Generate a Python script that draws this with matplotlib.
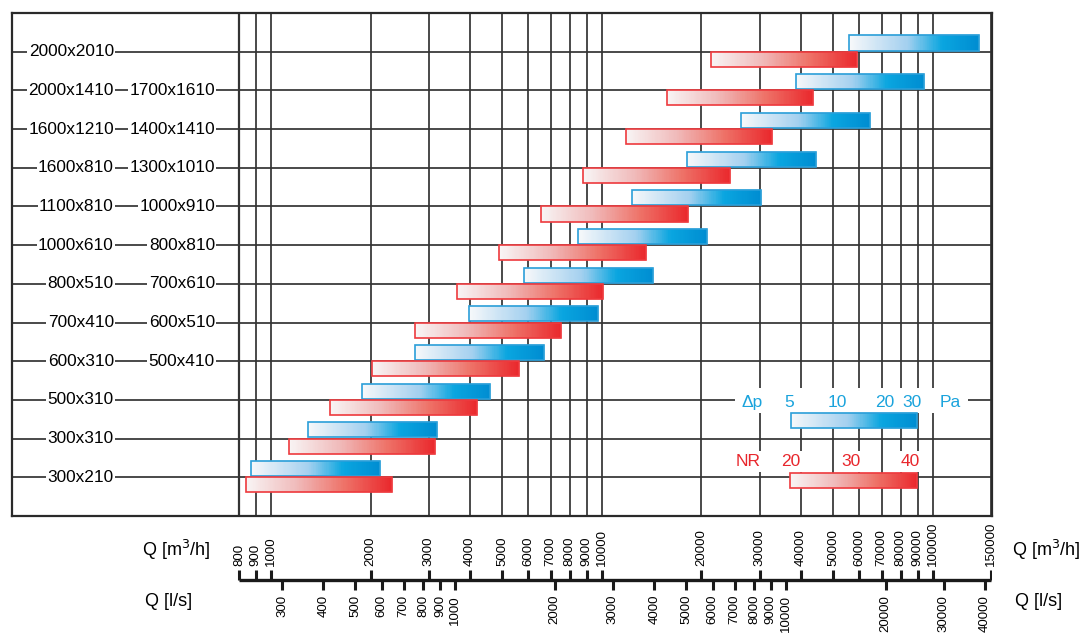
import numpy as np
import matplotlib
matplotlib.use('Agg')
import matplotlib.pyplot as plt
from matplotlib.colors import LinearSegmentedColormap

plt.rcParams['font.family'] = ['Liberation Sans', 'DejaVu Sans']

# Row labels (bottom -> top), two columns
labels_a = ['300x210', '300x310', '500x310', '600x310', '700x410', '800x510',
            '1000x610', '1100x810', '1600x810', '1600x1210', '2000x1410', '2000x2010']
labels_b = ['', '', '', '500x410', '600x510', '700x610',
            '800x810', '1000x910', '1300x1010', '1400x1410', '1700x1610', '']

# Flow ranges in m3/h
nr_start = [840, 1130, 1510, 2020, 2730, 3650, 4900, 6560, 8790, 11800, 15700, 21300]
nr_end = [2320, 3130, 4190, 5610, 7540, 10100, 13600, 18200, 24400, 32600, 43500, 59000]
dp_start = [870, 1290, 1880, 2730, 3970, 5820, 8490, 12300, 18100, 26400, 38500, 56000]
dp_end = [2140, 3170, 4600, 6670, 9740, 14300, 20800, 30200, 44300, 64500, 94000, 137500]

# Legend scales
dp_legend = (37200, 89900)
dp_legend_ticks = ['5', '10', '20', '30']
dp_legend_pos = [36800, 51400, 71800, 86600]
nr_legend = (37100, 89900)
nr_legend_ticks = ['20', '30', '40']
nr_legend_pos = [37100, 56600, 85400]

# Axis ticks
q_m3h = [800, 900, 1000, 2000, 3000, 4000, 5000, 6000, 7000, 8000, 9000, 10000,
         20000, 30000, 40000, 50000, 60000, 70000, 80000, 90000, 100000, 150000]
q_ls = [300, 400, 500, 600, 700, 800, 900, 1000, 2000, 3000, 4000, 5000, 6000,
        7000, 8000, 9000, 10000, 20000, 30000, 40000]

W, H = 1087, 633
fig = plt.figure(figsize=(W / 100, H / 100), dpi=100)

XMIN, XMAX = 165, 151000
ax = fig.add_axes([12 / W, 1 - 516 / H, 980 / W, 503 / H])
ax.set_xscale('log')
ax.set_xlim(XMIN, XMAX)
ax.set_ylim(-1, 12)
ax.set_xticks([])
ax.set_yticks([])
ax.minorticks_off()
for s in ax.spines.values():
    s.set_linewidth(1.6)
    s.set_color('#2a2a2a')

grid_c = '#333333'
for q in q_m3h:
    ax.axvline(q, color=grid_c, lw=1.6 if q == 800 else 1.25, zorder=1)
rows = np.arange(len(labels_a))
for r in rows:
    ax.axhline(r, color=grid_c, lw=1.25, zorder=1)

lab_kw = dict(fontsize=12.4, va='center', ha='right', zorder=3,
              bbox=dict(boxstyle='square,pad=0.08', fc='white', ec='none'))
for r in rows:
    ax.text(335, r, labels_a[r], **lab_kw)
    if labels_b[r]:
        ax.text(677, r, labels_b[r], **lab_kw)

blue_cm = LinearSegmentedColormap.from_list(
    'b', [(0, '#f6f8fa'), (0.45, '#a3d0ef'), (0.72, '#0aa6e0'), (1, '#008ed2')])
red_cm = LinearSegmentedColormap.from_list(
    'r', [(0, '#f8f4f4'), (0.35, '#f0baba'), (0.68, '#ee7268'), (1, '#ea2a2e')])


def grad_bar(x0, x1, y0, h, cmap, edge):
    n = 60
    edges = np.geomspace(x0, x1, n + 1)
    cols = cmap(np.linspace(0, 1, n))
    ax.barh([y0] * n, np.diff(edges), left=edges[:-1], height=h, align='edge',
            color=cols, edgecolor=cols, linewidth=0.3, zorder=4)
    ax.barh(y0, x1 - x0, left=x0, height=h, align='edge', fill=False,
            edgecolor=edge, linewidth=1.2, zorder=5)


BH = 0.39
for r in rows:
    grad_bar(dp_start[r], dp_end[r], r + 0.03, BH, blue_cm, '#2b9fd9')
    grad_bar(nr_start[r], nr_end[r], r - 0.39, BH, red_cm, '#ee3a3e')

# legend
blue_t = '#1aa3dc'
red_t = '#e8262c'
# white band behind the pressure scale text
ax.barh(1.66, 127900 - 25300, left=25300, height=0.66, align='edge',
        color='white', edgecolor='none', zorder=3)
grad_bar(dp_legend[0], dp_legend[1], 1.27, BH, blue_cm, '#2b9fd9')
grad_bar(nr_legend[0], nr_legend[1], -0.28, BH, red_cm, '#ee3a3e')
leg_box = dict(boxstyle='square,pad=0.15', fc='white', ec='none')
ax.text(26500, 1.93, '\u0394p', color=blue_t, fontsize=12.5, ha='left', va='center',
        zorder=6)
for t, p in zip(dp_legend_ticks, dp_legend_pos):
    ax.text(p, 1.93, t, color=blue_t, fontsize=12.5, ha='center', va='center',
            zorder=6)
ax.text(112900, 1.93, 'Pa', color=blue_t, fontsize=12.5, ha='center', va='center',
        zorder=6)
ax.text(27700, 0.41, 'NR', color=red_t, fontsize=12.5, ha='center', va='center',
        zorder=6, bbox=leg_box)
for t, p in zip(nr_legend_ticks, nr_legend_pos):
    ax.text(p, 0.41, t, color=red_t, fontsize=12.5, ha='center', va='center',
            zorder=6, bbox=leg_box)

# bottom double scale
ax2 = fig.add_axes([12 / W, 0, 980 / W, 117 / H])
ax2.set_xscale('log')
ax2.set_xlim(XMIN, XMAX)
ax2.set_ylim(-53, 64)
ax2.axis('off')
ax2.plot([800, 150000], [0, 0], color='#1a1a1a', lw=2.4, solid_capstyle='butt')
for q in q_m3h:
    ax2.plot([q, q], [0, 10], color='#1a1a1a', lw=2.2, solid_capstyle='butt')
    ax2.text(q, 14, str(q), rotation=90, fontsize=9.5, ha='center', va='bottom')
for q in q_ls:
    qm = q * 3.6
    ax2.plot([qm, qm], [0, -10], color='#1a1a1a', lw=2.2, solid_capstyle='butt')
    ax2.text(qm, -15, str(q), rotation=90, fontsize=9.5, ha='center', va='top')

for x, y, s in [(142, 550, 'Q [m$^3$/h]'), (145, 601, 'Q [l/s]'),
                (1012, 550, 'Q [m$^3$/h]'), (1015, 601, 'Q [l/s]')]:
    fig.text(x / W, 1 - y / H, s, fontsize=13, ha='left', va='center')

fig.savefig('out.png', dpi=100)
